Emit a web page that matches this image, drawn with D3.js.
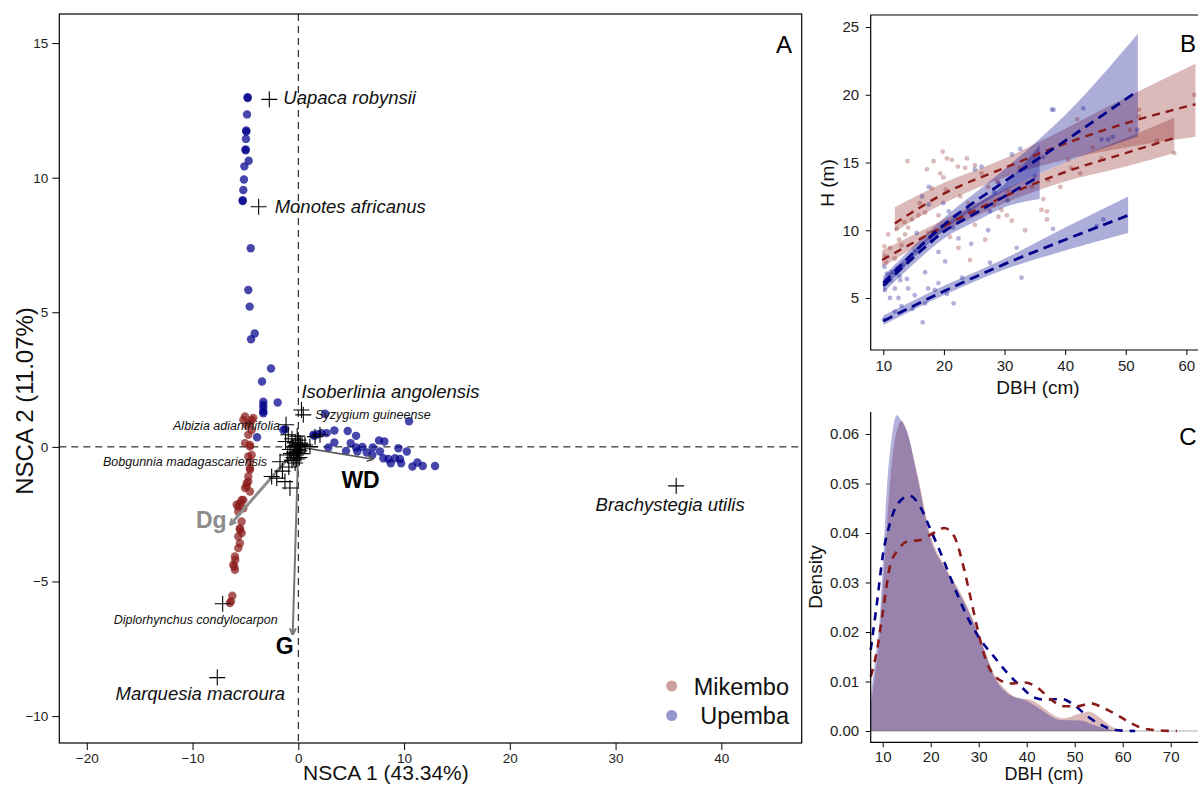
<!DOCTYPE html>
<html><head><meta charset="utf-8">
<script src="https://cdn.jsdelivr.net/npm/d3@7/dist/d3.min.js"></script>
<style>
body{margin:0;background:#fff}
svg{display:block}
text{font-family:"Liberation Sans",Arial,sans-serif}
</style>
</head><body>
<svg id="c" width="1198" height="785"></svg>
<script>
// ---------------- DATA ----------------
// Panel A: NSCA site scores
const sites = ["Mikembo", "Upemba"];
const mikemboScores = [[-5.2,1.0],[-4.41,1.0],[-5.04,1.13],[-4.26,1.07],[-4.88,0.82],[-4.57,0.88],[-4.41,0.63],[-4.73,0.45],[-5.04,0.14],[-4.57,0.07],[-4.57,0.01],[-4.73,-0.36],[-4.41,-0.3],[-4.57,-0.55],[-4.57,-0.79],[-4.57,-0.85],[-4.73,-1.1],[-4.73,-1.29],[-4.88,-1.35],[-4.88,-1.47],[-5.04,-1.53],[-4.57,-1.66],[-5.2,-1.97],[-5.35,-1.97],[-5.52,-2.09],[-5.83,-2.15],[-5.68,-2.22],[-5.2,-2.28],[-5.68,-2.4],[-5.36,-2.77],[-5.52,-3.02],[-5.52,-3.08],[-5.35,-3.2],[-5.68,-3.33],[-5.52,-3.58],[-5.68,-3.76],[-5.99,-4.07],[-5.96,-4.2],[-6.15,-4.38],[-6.05,-4.45],[-5.99,-4.57],[-6.24,-5.53],[-6.37,-5.74],[-6.47,-5.8]];
const upembaScores = [[-4.79,12.99],[-4.79,12.96],[-4.85,12.35],[-4.92,11.71],[-4.92,11.75],[-4.95,11.44],[-4.98,11.05],[-4.98,11.02],[-4.69,10.63],[-5.1,10.42],[-5.14,9.93],[-5.2,9.54],[-5.26,9.16],[-5.26,9.13],[-4.5,7.38],[-4.73,5.83],[-4.6,5.21],[-4.12,4.21],[-4.47,4.0],[-2.58,2.91],[-3.43,2.43],[-3.31,1.68],[-3.31,1.56],[-3.31,1.44],[-3.31,1.31],[-3.31,1.25],[-1.95,1.65],[-1.23,0.66],[-1.42,0.63],[-3.9,0.36],[2.53,1.23],[10.47,0.95],[1.42,0.45],[2.2,0.51],[1.52,0.41],[1.83,0.47],[3.41,0.61],[4.67,0.59],[5.46,0.41],[2.84,-0.02],[3.41,0.16],[4.51,-0.15],[4.95,0.14],[5.46,-0.02],[5.58,-0.17],[6.06,0.0],[6.47,-0.21],[7.04,-0.02],[7.63,0.24],[8.14,0.2],[7.73,-0.17],[8.04,-0.42],[7.0,-0.3],[8.52,-0.45],[9.15,-0.42],[9.46,-0.05],[9.62,-0.45],[10.26,-0.17],[8.74,-0.61],[9.72,-0.61],[10.79,-0.73],[11.26,-0.58],[11.77,-0.71],[12.93,-0.71],[2.68,0.51]];
// Panel A: species scores (named)
const speciesNames = ["Uapaca robynsii","Monotes africanus","Isoberlinia angolensis","Syzygium guineense","Albizia adianthifolia","Bobgunnia madagascariensis","Brachystegia utilis","Diplorhynchus condylocarpon","Marquesia macroura"];
const speciesScores = [[-2.74,12.91],[-3.75,8.92],[0.3,1.37],[0.47,1.19],[-1.16,0.82],[-1.73,-0.55],[35.73,-1.45],[-7.15,-5.83],[-7.66,-8.57]];
// Panel A: other species scores (unlabelled)
const otherSpeciesScores = [[-0.95,0.45],[-0.6,0.3],[-0.3,0.15],[0.0,-0.1],[0.2,0.05],[-0.2,-0.3],[0.1,-0.4],[-0.4,-0.2],[0.35,0.1],[0.63,0.07],[1.1,0.01],[1.58,0.38],[2.05,0.45],[0.16,0.14],[-0.6,-0.5],[-0.3,-0.6],[-0.1,0.4],[-0.8,-0.1],[-0.5,0.0],[0.0,0.25],[-1.0,-0.3],[-2.52,-1.1],[-2.04,-1.16],[-1.26,-1.29],[-0.79,-1.53],[-0.1,-0.2],[-0.25,0.05],[0.1,-0.15],[-0.15,-0.45],[-1.2,0.2],[-0.7,-0.25],[-0.45,-0.4],[0.25,-0.25],[-0.05,0.1],[-1.5,-0.9],[-0.9,-0.75]];
// Panel A: trait vectors
const traitNames = ["WD","Dg","G"];
const traitVectors = [[7.1,-0.46],[-6.46,-2.9],[-0.53,-6.98]];
const xTicksA = [-20,-10,0,10,20,30,40];
const yTicksA = [-10,-5,0,5,10,15];

// Panel B: H-DBH observations
const obsMikembo = [[14.0,15.1],[19.8,15.8],[18.3,15.1],[20.5,15.3],[21.3,15.2],[17.2,14.5],[19.4,14.2],[19.9,13.9],[22.3,14.7],[23.8,15.3],[25.1,14.8],[23.5,14.6],[20.3,13.0],[22.7,12.5],[26.2,14.2],[27.3,13.2],[28.2,11.9],[29.5,11.5],[30.4,11.1],[31.2,10.7],[37.0,11.4],[33.4,10.0],[26.8,9.3],[24.3,7.8],[21.0,9.5],[19.1,11.1],[16.9,11.3],[15.8,11.1],[14.7,10.8],[14.1,10.2],[13.6,9.7],[13.0,8.9],[11.9,7.9],[10.3,8.1],[10.8,9.7],[11.1,8.7],[17.4,9.8],[22.4,8.7],[25.1,10.4],[30.6,12.9],[34.5,13.2],[36.1,11.5],[37.2,13.7],[61.3,20.0],[52.2,18.9],[52.2,18.4],[58.0,15.7],[55.1,16.6],[39.2,13.2],[42.5,14.2],[41.0,14.6],[36.4,12.3],[37.0,10.8],[50.7,17.4],[42.0,18.2],[44.5,16.1],[10.2,8.8],[10.5,7.6],[12.2,10.1],[13.5,10.6],[16.0,12.0],[18.0,13.1],[24.0,12.0],[28.8,13.6],[32.5,14.6],[40.5,15.2],[46.0,15.3],[29.0,11.0],[12.6,9.3]];
const obsUpemba = [[17.5,13.2],[16.4,12.5],[19.9,12.0],[25.1,14.5],[26.2,14.7],[31.2,15.6],[37.8,18.9],[32.6,16.0],[27.6,11.4],[27.3,10.0],[22.4,9.4],[20.2,7.7],[19.1,8.4],[16.9,6.9],[15.2,8.5],[14.1,7.7],[13.9,6.4],[12.8,6.3],[11.9,5.7],[10.3,5.6],[11.1,5.0],[12.5,5.0],[14.1,5.7],[17.4,5.7],[15.2,5.2],[20.5,5.3],[21.6,4.6],[16.5,3.2],[10.1,3.4],[11.9,4.0],[16.9,4.6],[19.1,6.1],[27.6,7.6],[32.8,6.5],[32.0,8.7],[22.7,10.8],[24.1,11.5],[28.3,12.8],[17.5,11.9],[10.2,7.3],[10.6,6.8],[11.4,6.9],[12.3,7.2],[12.7,6.6],[10.5,6.1],[11.2,6.3],[13.2,7.4],[38.1,18.9],[43.0,19.0],[46.0,16.7],[47.1,16.7],[47.9,16.9],[51.9,17.4],[36.4,15.4],[38.0,10.1],[45.2,10.3],[46.3,10.8],[13.0,4.4],[14.8,4.2],[18.5,5.6],[23.0,6.5],[30.5,12.2],[35.0,14.0],[29.0,13.5],[21.5,10.2],[18.0,9.2],[15.5,9.8],[20.8,11.4],[24.5,9.0]];
// Panel B: fitted models [DBH, H, lower, upper]
const fitMikembo1 = [[11.9,10.5,9.9,11.7],[20,12.7,12.0,13.5],[30,14.6,13.9,15.3],[40,16.4,15.2,17.5],[50,17.9,16.1,19.8],[61.5,19.3,16.9,22.3]];
const fitMikembo2 = [[9.8,7.8,7.3,8.5],[20,10.3,9.9,10.8],[30,12.5,12.0,13.0],[40,14.3,13.6,15.0],[50,15.7,14.7,16.8],[58,16.8,15.7,18.3]];
const fitUpemba1 = [[10,6.1,5.7,6.6],[20,10.4,10.0,10.9],[30,13.6,12.9,14.5],[40,16.6,15.0,18.5],[52,20.3,16.9,24.5]];
const fitUpemba2 = [[10,5.9,5.4,6.4],[15,8.0,7.5,8.5],[20,9.9,9.4,10.4],[25,11.2,10.6,11.8],[30,12.5,11.7,13.4],[35.8,14.0,12.3,16.3]];
const fitUpemba3 = [[10,3.3,3.0,3.7],[20,5.5,5.2,5.9],[30,7.5,7.1,7.9],[40,9.3,8.5,10.2],[50.4,11.1,9.8,12.5]];
const xTicksB = [10,20,30,40,50,60];
const yTicksB = [5,10,15,20,25];

// Panel C: DBH density
const densMikembo = [[7.5,0.005],[8.5,0.012],[9.4,0.02],[10.1,0.03],[10.8,0.04],[11.5,0.05],[12.4,0.058],[13.2,0.0615],[13.9,0.0627],[15,0.0605],[17.2,0.052],[20,0.0395],[22.8,0.0335],[25.6,0.029],[28.4,0.0235],[31.1,0.0168],[33.2,0.0115],[36,0.008],[38.5,0.0066],[40.9,0.0063],[43.6,0.0046],[46,0.003],[47.8,0.0026],[50.6,0.0034],[53,0.0039],[55.4,0.0026],[57.5,0.001],[59.6,0]];
const densUpemba = [[7.5,0.007],[8.5,0.015],[9.4,0.023],[10.1,0.035],[10.8,0.048],[11.9,0.0595],[12.9,0.0638],[14,0.0625],[15.1,0.0605],[17.2,0.0514],[20,0.0386],[22.8,0.0332],[25.6,0.0285],[28.4,0.0231],[31.1,0.0164],[33.2,0.011],[36,0.0076],[40.2,0.006],[43,0.0043],[47.1,0.0022],[51.3,0.0021],[54,0.0012],[58.2,0.0001],[60,0]];
const densMikemboAlt = [[7.5,0.011],[8.7,0.0157],[10.1,0.0245],[11.5,0.0332],[13.2,0.0366],[15.1,0.0383],[17.8,0.0386],[20.6,0.04],[22.8,0.041],[24.9,0.0393],[27,0.0325],[28.4,0.0265],[29.8,0.0204],[31.5,0.0143],[33.9,0.0106],[36.7,0.0096],[39.5,0.0098],[42.2,0.0088],[45,0.0064],[47.8,0.005],[50.6,0.005],[53.3,0.0056],[56.1,0.0046],[58.9,0.0032],[61.7,0.0016],[64.4,0.0005],[67.9,0.0001],[71.3,0]];
const densUpembaAlt = [[7.5,0.0164],[8.7,0.0251],[10.1,0.0359],[11.5,0.0419],[13.2,0.046],[15.7,0.0475],[17.8,0.0453],[20,0.0406],[22.1,0.0359],[24.9,0.0291],[27.6,0.0231],[30.4,0.0184],[33.2,0.015],[36,0.0117],[38.8,0.009],[41.5,0.0068],[44.3,0.0063],[47.1,0.0065],[49.8,0.0053],[52.6,0.003],[55.4,0.0013],[58.2,0.0002],[62.6,0]];
const xTicksC = [10,20,30,40,50,60,70];
const yTicksC = [0,0.01,0.02,0.03,0.04,0.05,0.06];

// ---------------- STYLE / LAYOUT ----------------
const RED = "#8B1A1A", BLUE = "#00008B";
const svg = d3.select("#c");
const tickCol = "#222";

function styleAxis(g, fs){
  g.select(".domain").remove();
  g.selectAll(".tick line").attr("stroke","#000");
  g.selectAll(".tick text").attr("fill",tickCol).style("font-size",fs+"px");
}

// ================= PANEL A =================
const xA = d3.scaleLinear().domain([-22.6,47.6]).range([59.3,801.7]);
const yA = d3.scaleLinear().domain([-11,16.08]).range([743,14]);
const gA = svg.append("g");

gA.append("g").attr("transform","translate(0,743)")
  .call(d3.axisBottom(xA).tickValues(xTicksA).tickSize(7).tickPadding(3))
  .call(g=>styleAxis(g,13.5));
gA.append("g").attr("transform","translate(59.3,0)")
  .call(d3.axisLeft(yA).tickValues(yTicksA).tickSize(7).tickPadding(4))
  .call(g=>styleAxis(g,13.5));
gA.append("rect").attr("x",59.3).attr("y",14).attr("width",801.7-59.3).attr("height",743-14)
  .attr("fill","none").attr("stroke","#000").attr("stroke-width",1.2);

// reference lines
gA.append("line").attr("x1",59.3).attr("x2",801.7).attr("y1",yA(0)).attr("y2",yA(0))
  .attr("stroke","#000").attr("stroke-dasharray","7,5");
gA.append("line").attr("x1",xA(0)).attr("x2",xA(0)).attr("y1",14).attr("y2",743)
  .attr("stroke","#000").attr("stroke-dasharray","7,5");

// site points
gA.append("g").selectAll("circle").data(mikemboScores).join("circle")
  .attr("cx",d=>xA(d[0])).attr("cy",d=>yA(d[1])).attr("r",4.2)
  .attr("fill",RED).attr("fill-opacity",0.72);
gA.append("g").selectAll("circle").data(upembaScores).join("circle")
  .attr("cx",d=>xA(d[0])).attr("cy",d=>yA(d[1])).attr("r",4.2)
  .attr("fill",BLUE).attr("fill-opacity",0.72);

// trait arrows
const arrowStyle = {WD:{col:"#555",w:1.6,lab:"#000",dx:-32,dy:29},
                    Dg:{col:"#8c8c8c",w:3,lab:"#8c8c8c",dx:-34,dy:3},
                    G:{col:"#777",w:2,lab:"#000",dx:-17,dy:19}};
traitVectors.forEach((v,i)=>{
  const st = arrowStyle[traitNames[i]];
  const x0=xA(0), y0=yA(0), x1=xA(v[0]), y1=yA(v[1]);
  gA.append("line").attr("x1",x0).attr("y1",y0).attr("x2",x1).attr("y2",y1)
    .attr("stroke",st.col).attr("stroke-width",st.w);
  const ang = Math.atan2(y1-y0,x1-x0), L=7, a=0.45;
  [ang+Math.PI-a, ang+Math.PI+a].forEach(t=>{
    gA.append("line").attr("x1",x1).attr("y1",y1)
      .attr("x2",x1+L*Math.cos(t)).attr("y2",y1+L*Math.sin(t))
      .attr("stroke",st.col).attr("stroke-width",Math.min(st.w,2));
  });
  gA.append("text").attr("x",x1+st.dx).attr("y",y1+st.dy)
    .attr("fill",st.lab).style("font-size","23px").style("font-weight","bold")
    .text(traitNames[i]);
});

// species crosses
function cross(g, x, y){
  g.append("path").attr("d",`M${x-8},${y}H${x+8}M${x},${y-8}V${y+8}`)
    .attr("stroke","#000").attr("stroke-width",1.1).attr("fill","none");
}
const gC = gA.append("g");
otherSpeciesScores.forEach(d=>cross(gC,xA(d[0]),yA(d[1])));
speciesScores.forEach(d=>cross(gC,xA(d[0]),yA(d[1])));

// species labels (layout)
const labelLayout = [
  {dx:14,dy:5,anchor:"start",fs:18.5},
  {dx:16,dy:6,anchor:"start",fs:18.5},
  {dx:0,dy:-12,anchor:"start",fs:18.5},
  {dx:12,dy:4,anchor:"start",fs:12.5},
  {dx:-6,dy:5,anchor:"end",fs:12.5},
  {dx:-13,dy:4,anchor:"end",fs:12.5},
  {dx:-6,dy:25,anchor:"middle",fs:18.5},
  {dx:-27,dy:20,anchor:"middle",fs:12.5},
  {dx:-17,dy:22,anchor:"middle",fs:18.5}
];
speciesNames.forEach((n,i)=>{
  const L = labelLayout[i], d = speciesScores[i];
  gA.append("text").attr("x",xA(d[0])+L.dx).attr("y",yA(d[1])+L.dy)
    .attr("text-anchor",L.anchor).attr("fill","#111")
    .style("font-size",L.fs+"px").style("font-style","italic").text(n);
});

// panel label, axis titles
gA.append("text").attr("x",784).attr("y",53).attr("text-anchor","middle").style("font-size","24px").text("A");
gA.append("text").attr("x",303).attr("y",779.5).style("font-size","21px").attr("fill","#111").text("NSCA 1 (43.34%)");
gA.append("text").attr("transform","translate(33,401) rotate(-90)").attr("text-anchor","middle")
  .style("font-size","24px").attr("fill","#111").text("NSCA 2 (11.07%)");

// legend
const legCols = [RED, BLUE];
sites.forEach((s,i)=>{
  const yy = 686 + i*29.5;
  gA.append("circle").attr("cx",671.7).attr("cy",yy).attr("r",5.5).attr("fill",legCols[i]).attr("fill-opacity",0.42);
  gA.append("text").attr("x",789).attr("y",yy+8.5).attr("text-anchor","end").style("font-size","23.5px").attr("fill","#111").text(s);
});

// ================= PANEL B =================
const xB = d3.scaleLinear().domain([7.92,62.5]).range([870.7,1201.5]);
const yB = d3.scaleLinear().domain([1.16,25.89]).range([350,15]);
const gB = svg.append("g");
gB.append("g").attr("transform","translate(0,350)")
  .call(d3.axisBottom(xB).tickValues(xTicksB).tickSize(5).tickPadding(5))
  .call(g=>styleAxis(g,15));
gB.append("g").attr("transform","translate(870.7,0)")
  .call(d3.axisLeft(yB).tickValues(yTicksB).tickSize(5).tickPadding(6.5))
  .call(g=>styleAxis(g,15));

const areaB = d3.area().x(d=>xB(d[0])).y0(d=>yB(d[2])).y1(d=>yB(d[3])).curve(d3.curveMonotoneX);
const lineB = d3.line().x(d=>xB(d[0])).y(d=>yB(d[1])).curve(d3.curveMonotoneX);
const fitsB = [[fitMikembo1,RED],[fitMikembo2,RED],[fitUpemba1,BLUE],[fitUpemba2,BLUE],[fitUpemba3,BLUE]];
fitsB.forEach(([f,c])=>{
  gB.append("path").attr("d",areaB(f)).attr("fill",c).attr("fill-opacity",c===RED?0.3:0.32);
});
gB.append("g").selectAll("circle").data(obsMikembo).join("circle")
  .attr("cx",d=>xB(d[0])).attr("cy",d=>yB(d[1])).attr("r",2.4).attr("fill",RED).attr("fill-opacity",0.3);
gB.append("g").selectAll("circle").data(obsUpemba).join("circle")
  .attr("cx",d=>xB(d[0])).attr("cy",d=>yB(d[1])).attr("r",2.4).attr("fill",BLUE).attr("fill-opacity",0.3);
fitsB.forEach(([f,c])=>{
  gB.append("path").attr("d",lineB(f)).attr("fill","none").attr("stroke",c)
    .attr("stroke-width",c===RED?2.4:2.8).attr("stroke-dasharray",c===RED?"8,6":"10,6");
});
gB.append("path").attr("d","M1205,15H870.7V350H1205").attr("fill","none").attr("stroke","#000").attr("stroke-width",1.2);
gB.append("text").attr("x",1188).attr("y",52).attr("text-anchor","middle").style("font-size","24px").text("B");
gB.append("text").attr("x",1038).attr("y",394).attr("text-anchor","middle").style("font-size","19px").attr("fill","#111").text("DBH (cm)");
gB.append("text").attr("transform","translate(834,183) rotate(-90)").attr("text-anchor","middle")
  .style("font-size","19px").attr("fill","#111").text("H (m)");

// ================= PANEL C =================
const xC = d3.scaleLinear().domain([7.5,76]).range([870.7,1199.5]);
const yC = d3.scaleLinear().domain([-0.00228,0.06444]).range([742.3,412]);
const gCc = svg.append("g");
gCc.append("g").attr("transform","translate(0,742.3)")
  .call(d3.axisBottom(xC).tickValues(xTicksC).tickSize(5).tickPadding(4))
  .call(g=>styleAxis(g,15));
gCc.append("g").attr("transform","translate(870.7,0)")
  .call(d3.axisLeft(yC).tickValues(yTicksC).tickFormat(d3.format(".2f")).tickSize(5).tickPadding(6.5))
  .call(g=>styleAxis(g,15));
gCc.append("line").attr("x1",870.7).attr("x2",1198).attr("y1",yC(0)).attr("y2",yC(0))
  .attr("stroke","#c8c8c8").attr("stroke-width",1.5);
const areaC = d3.area().x(d=>xC(d[0])).y0(yC(0)).y1(d=>yC(d[1])).curve(d3.curveMonotoneX);
const lineC = d3.line().x(d=>xC(d[0])).y(d=>yC(d[1])).curve(d3.curveMonotoneX);
gCc.append("path").attr("d",areaC(densMikembo)).attr("fill",RED).attr("fill-opacity",0.3);
gCc.append("path").attr("d",areaC(densUpemba)).attr("fill",BLUE).attr("fill-opacity",0.3);
gCc.append("path").attr("d",lineC(densUpembaAlt)).attr("fill","none").attr("stroke",BLUE).attr("stroke-width",2.6).attr("stroke-dasharray","8,7");
gCc.append("path").attr("d",lineC(densMikemboAlt)).attr("fill","none").attr("stroke",RED).attr("stroke-width",2.6).attr("stroke-dasharray","8,7");
gCc.append("path").attr("d","M870.7,412V742.3H1198").attr("fill","none").attr("stroke","#000").attr("stroke-width",1.2);
gCc.append("text").attr("x",1044).attr("y",445).attr("text-anchor","middle").style("font-size","24px").attr("x",1188).text("C");
gCc.append("text").attr("x",1044).attr("y",780).attr("text-anchor","middle").style("font-size","18px").attr("fill","#111").text("DBH (cm)");
gCc.append("text").attr("transform","translate(822,577) rotate(-90)").attr("text-anchor","middle")
  .style("font-size","19px").attr("fill","#111").text("Density");
</script>
</body></html>
